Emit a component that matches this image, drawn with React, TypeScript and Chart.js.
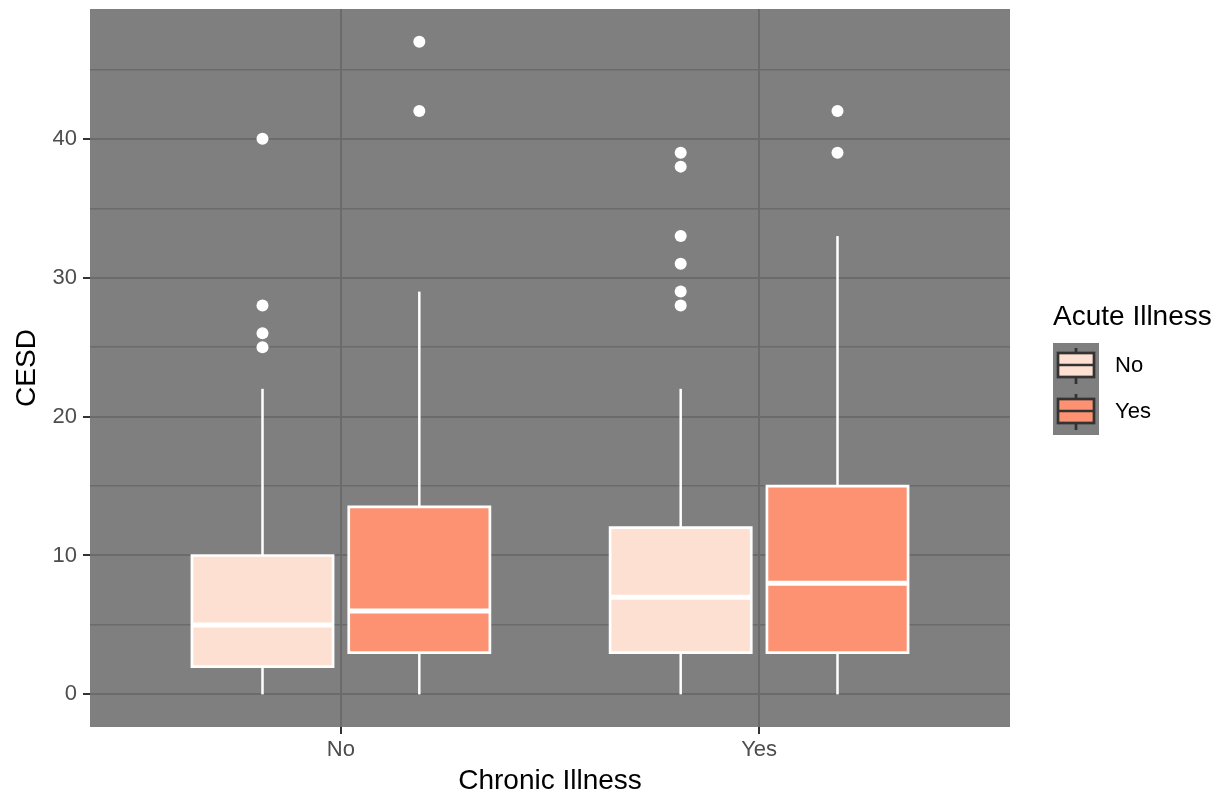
import React, { useEffect, useRef } from "react";
import { Chart, registerables } from "chart.js";

Chart.register(...registerables);

// Chronic Illness categories (x axis)
const chronicCategories = ["No", "Yes"];
// Acute Illness levels (fill groups)
const acuteLevels = ["No", "Yes"];
const acuteColors = ["#FEE0D2", "#FC9272"];

// Box statistics per acute level, indexed by chronic category
const acuteNoLower = [0, 0];
const acuteNoQ1 = [2, 3];
const acuteNoMedian = [5, 7];
const acuteNoQ3 = [10, 12];
const acuteNoUpper = [22, 22];
const acuteNoOutliers = [
  [25, 26, 28, 40],
  [28, 29, 31, 33, 38, 39],
];

const acuteYesLower = [0, 0];
const acuteYesQ1 = [3, 3];
const acuteYesMedian = [6, 8];
const acuteYesQ3 = [13.5, 15];
const acuteYesUpper = [29, 33];
const acuteYesOutliers = [
  [42, 47],
  [39, 42],
];

const yTicks = [0, 10, 20, 30, 40];
const yMinorTicks = [5, 15, 25, 35, 45];

const FONT = "'Liberation Sans', Arial, Helvetica, sans-serif";

const stats = [
  { lower: acuteNoLower, q1: acuteNoQ1, med: acuteNoMedian, q3: acuteNoQ3, upper: acuteNoUpper, out: acuteNoOutliers },
  { lower: acuteYesLower, q1: acuteYesQ1, med: acuteYesMedian, q3: acuteYesQ3, upper: acuteYesUpper, out: acuteYesOutliers },
];

function buildDatasets() {
  const dodge = 0.1875;
  const hw = 0.16875;
  const ds: any[] = [];
  stats.forEach((s, gi) => {
    chronicCategories.forEach((_, ci) => {
      const xc = ci + 1 + (gi === 0 ? -dodge : dodge);
      const line = {
        type: "scatter",
        showLine: true,
        pointRadius: 0,
        borderColor: "#FFFFFF",
        borderCapStyle: "butt",
        borderJoinStyle: "miter",
        fill: false,
      };
      // whiskers
      ds.push({ ...line, order: 5, borderWidth: 2.5, data: [{ x: xc, y: s.q3[ci] }, { x: xc, y: s.upper[ci] }] });
      ds.push({ ...line, order: 5, borderWidth: 2.5, data: [{ x: xc, y: s.lower[ci] }, { x: xc, y: s.q1[ci] }] });
      // box
      ds.push({
        ...line,
        order: 4,
        borderWidth: 2.7,
        fill: "shape",
        backgroundColor: acuteColors[gi],
        data: [
          { x: xc, y: s.q1[ci] },
          { x: xc + hw, y: s.q1[ci] },
          { x: xc + hw, y: s.q3[ci] },
          { x: xc - hw, y: s.q3[ci] },
          { x: xc - hw, y: s.q1[ci] },
          { x: xc, y: s.q1[ci] },
        ],
      });
      // median
      ds.push({ ...line, order: 3, borderWidth: 5, data: [{ x: xc - hw, y: s.med[ci] }, { x: xc + hw, y: s.med[ci] }] });
      // outliers
      ds.push({
        type: "scatter",
        order: 2,
        pointRadius: 6,
        pointBorderWidth: 0,
        pointBackgroundColor: "#FFFFFF",
        showLine: false,
        data: s.out[ci].map((v) => ({ x: xc, y: v })),
      });
    });
  });
  return ds;
}

const panelBg = {
  id: "panelBg",
  beforeDraw(chart: any) {
    const { ctx, chartArea: a } = chart;
    ctx.save();
    ctx.fillStyle = "#7F7F7F";
    ctx.fillRect(a.left, a.top, a.right - a.left, a.bottom - a.top);
    ctx.restore();
  },
};

const ggLegend = {
  id: "ggLegend",
  afterDraw(chart: any) {
    const { ctx } = chart;
    const x0 = 1053;
    const top = 343;
    const kh = 46;
    const kw = 46;
    ctx.save();
    ctx.fillStyle = "#000000";
    ctx.font = `28px ${FONT}`;
    ctx.textAlign = "left";
    ctx.textBaseline = "alphabetic";
    ctx.fillText("Acute Illness", x0, 325);
    ctx.fillStyle = "#7F7F7F";
    ctx.fillRect(x0, top, kw, kh * acuteLevels.length);
    acuteLevels.forEach((lvl, i) => {
      const ky = top + i * kh;
      const cx = x0 + 23;
      ctx.strokeStyle = "#333333";
      ctx.lineWidth = 2.7;
      ctx.lineCap = "butt";
      ctx.beginPath();
      ctx.moveTo(cx, ky + 5);
      ctx.lineTo(cx, ky + 10);
      ctx.moveTo(cx, ky + 34);
      ctx.lineTo(cx, ky + 41);
      ctx.stroke();
      ctx.fillStyle = acuteColors[i];
      ctx.fillRect(x0 + 5, ky + 10, 36, 24);
      ctx.strokeRect(x0 + 5, ky + 10, 36, 24);
      ctx.beginPath();
      ctx.moveTo(x0 + 5, ky + 22);
      ctx.lineTo(x0 + 41, ky + 22);
      ctx.stroke();
      ctx.fillStyle = "#000000";
      ctx.font = `22px ${FONT}`;
      ctx.textBaseline = "middle";
      ctx.fillText(lvl, 1115, ky + 23);
    });
    ctx.restore();
  },
};

export default function App() {
  const ref = useRef<HTMLCanvasElement>(null);
  useEffect(() => {
    document.body.style.margin = "0";
    const canvas = ref.current!;
    const chart = new Chart(canvas, {
      type: "scatter",
      data: { datasets: buildDatasets() as any },
      plugins: [panelBg, ggLegend],
      options: {
        animation: false,
        responsive: false,
        events: [],
        layout: { padding: { left: 0, top: 9, right: 217, bottom: 0 } },
        plugins: { legend: { display: false }, tooltip: { enabled: false } },
        scales: {
          x: {
            type: "linear",
            min: 0.4,
            max: 2.6,
            afterFit: (s: any) => {
              s.height = 68;
              s.paddingLeft = 0;
              s.paddingRight = 0;
            },
            afterBuildTicks: (s: any) => {
              s.ticks = chronicCategories.map((_, i) => ({ value: i + 1 }));
            },
            border: { display: false },
            grid: { color: "#6B6B6B", lineWidth: 2, tickLength: 7, tickColor: "#333333", tickWidth: 2 },
            ticks: {
              padding: 3,
              color: "#4D4D4D",
              font: { family: FONT, size: 22 },
              callback: (v: any) => chronicCategories[Math.round(Number(v)) - 1] ?? "",
              maxRotation: 0,
              autoSkip: false,
            },
            title: {
              display: true,
              text: "Chronic Illness",
              color: "#000000",
              font: { family: FONT, size: 28, lineHeight: 1 },
              padding: { top: 0, bottom: 0 },
            },
          },
          y: {
            type: "linear",
            min: -2.35,
            max: 49.35,
            afterFit: (s: any) => {
              s.width = 90;
              s.paddingTop = 0;
              s.paddingBottom = 0;
            },
            afterBuildTicks: (s: any) => {
              s.ticks = [...yTicks, ...yMinorTicks].sort((a, b) => a - b).map((v) => ({ value: v }));
            },
            border: { display: false },
            grid: {
              color: "#6B6B6B",
              lineWidth: (c: any) => (yTicks.includes(c.tick?.value) ? 2 : 1.4),
              tickLength: 7,
              tickColor: (c: any) => (yTicks.includes(c.tick?.value) ? "#333333" : "rgba(0,0,0,0)"),
              tickWidth: 2,
            },
            ticks: {
              padding: 6,
              color: "#4D4D4D",
              font: { family: FONT, size: 22 },
              autoSkip: false,
              callback: (v: any) => (yTicks.includes(Number(v)) ? String(v) : ""),
            },
            title: {
              display: true,
              text: "CESD",
              color: "#000000",
              font: { family: FONT, size: 28, lineHeight: 1 },
              padding: { top: 13, bottom: 0 },
            },
          },
        },
      } as any,
    });
    return () => chart.destroy();
  }, []);
  return (
    <div style={{ width: 1227, height: 795 }}>
      <canvas ref={ref} width={1227} height={795} style={{ display: "block" }} />
    </div>
  );
}
